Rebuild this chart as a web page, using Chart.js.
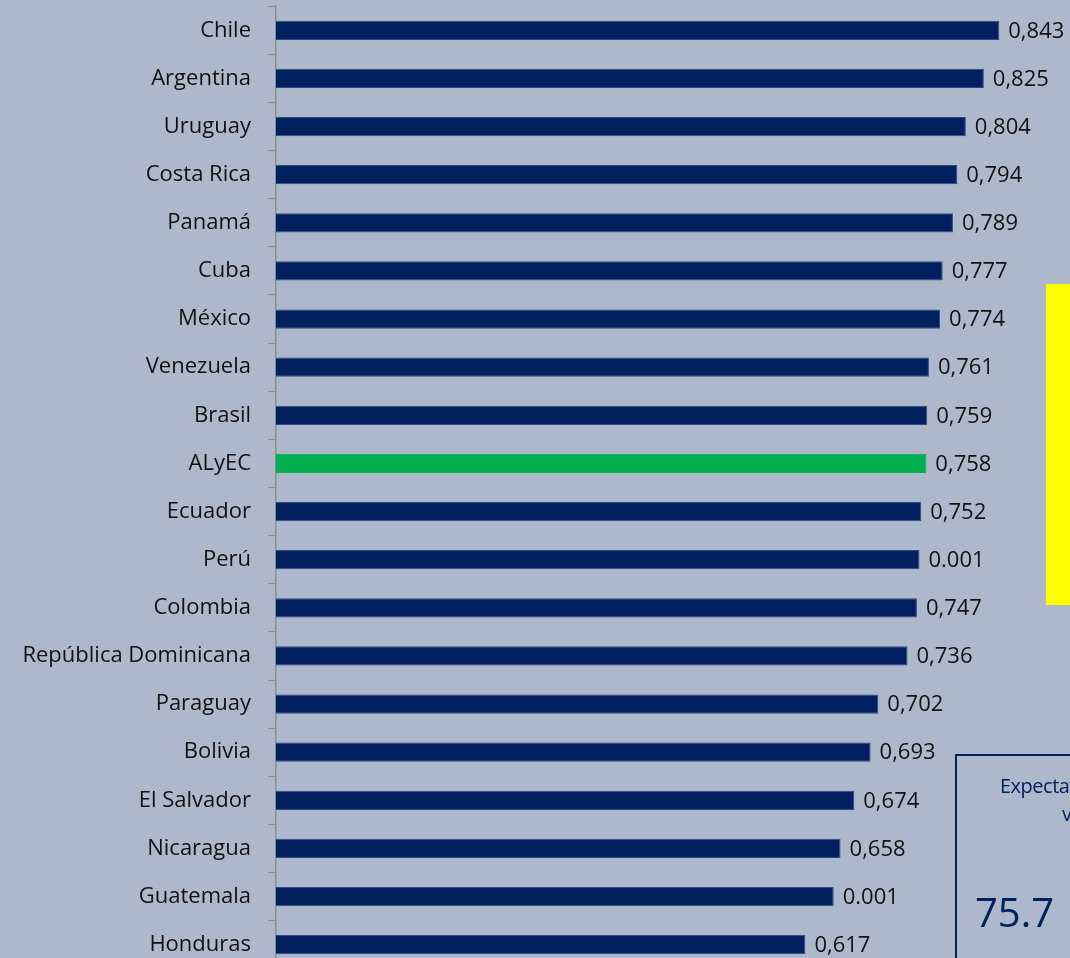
<!DOCTYPE html>
<html>
<head>
<meta charset="utf-8">
<script src="https://cdn.jsdelivr.net/npm/chart.js@4"></script>
<style>
  html, body { margin: 0; padding: 0; width: 1070px; height: 958px; overflow: hidden; background: #ADB9CA; }
  #wrap { position: absolute; left: 0; top: -24px; width: 1134px; height: 1023px; }
  .yellowBox { position: absolute; left: 1046px; top: 284px; width: 100px; height: 321px; background: #FFFF00; }
  .infoBox { position: absolute; left: 955px; top: 754px; width: 200px; height: 220px; border: 2px solid #002060;
             color: #002060; font-family: "Open Sans", sans-serif; }
  .infoBox span { position: absolute; white-space: nowrap; }
</style>
</head>
<body>
<div id="wrap"><canvas id="hdiChart"></canvas></div>
<div class="yellowBox"></div>
<div class="infoBox">
  <span style="left:43px; top:16px; font-size:20px; letter-spacing:-0.5px;">Expectativa de</span>
  <span style="left:105px; top:44px; font-size:20px;">vida</span>
  <span style="left:18px; top:128px; font-size:40px;">75.7</span>
</div>
<script>
// Countries, top to bottom
const countries = ['Chile', 'Argentina', 'Uruguay', 'Costa Rica', 'Panamá', 'Cuba', 'México', 'Venezuela',
    'Brasil', 'ALyEC', 'Ecuador', 'Perú', 'Colombia', 'República Dominicana', 'Paraguay', 'Bolivia',
    'El Salvador', 'Nicaragua', 'Guatemala', 'Honduras'];

// Index values (bar lengths)
const hdiValues = [0.843, 0.825, 0.804, 0.794, 0.789, 0.777, 0.774, 0.761, 0.759, 0.758,
    0.752, 0.750, 0.747, 0.736, 0.702, 0.693, 0.674, 0.658, 0.650, 0.617];

// Value labels as printed next to each bar
const valueLabels = ['0,843', '0,825', '0,804', '0,794', '0,789', '0,777', '0,774', '0,761', '0,759', '0,758',
    '0,752', '0.001', '0,747', '0,736', '0,702', '0,693', '0,674', '0,658', '0.001', '0,617'];

const barColors = countries.map(c => c === 'ALyEC' ? '#00B050' : '#002060');
const barBorders = countries.map(c => c === 'ALyEC' ? '#00B050' : '#2E4A86');

// Draw the value text at the end of every bar
const valueLabelPlugin = {
    id: 'valueLabels',
    afterDatasetsDraw(chart) {
        const ctx = chart.ctx;
        const meta = chart.getDatasetMeta(0);
        ctx.save();
        ctx.font = '22px "Open Sans", sans-serif';
        ctx.fillStyle = '#111111';
        ctx.textBaseline = 'middle';
        ctx.textAlign = 'left';
        meta.data.forEach((bar, i) => {
            ctx.fillText(valueLabels[i], bar.x + 9, bar.y + 1);
        });
        ctx.restore();
    }
};

function initChart() {
    const ctx = document.getElementById('hdiChart').getContext('2d');
    new Chart(ctx, {
        type: 'bar',
        data: {
            labels: countries,
            datasets: [{
                data: hdiValues,
                backgroundColor: barColors,
                borderColor: barBorders,
                borderWidth: 1,
                barPercentage: 0.4,
                categoryPercentage: 1.0
            }]
        },
        options: {
            indexAxis: 'y',
            responsive: true,
            maintainAspectRatio: false,
            animation: false,
            layout: { padding: { top: 6, right: 0, bottom: 0, left: 0 } },
            plugins: {
                legend: { display: false },
                tooltip: { enabled: false }
            },
            scales: {
                x: {
                    display: false,
                    min: 0,
                    max: 1.0
                },
                y: {
                    afterFit(scale) { scale.width = 276; },
                    grid: {
                        offset: true,
                        drawOnChartArea: false,
                        tickLength: 8,
                        color: '#8C8C8C'
                    },
                    border: { color: '#8C8C8C', width: 1.5 },
                    ticks: {
                        color: '#111111',
                        padding: 17,
                        font: { family: '"Open Sans", sans-serif', size: 22 }
                    }
                }
            }
        },
        plugins: [valueLabelPlugin]
    });
}

initChart();
</script>
</body>
</html>
